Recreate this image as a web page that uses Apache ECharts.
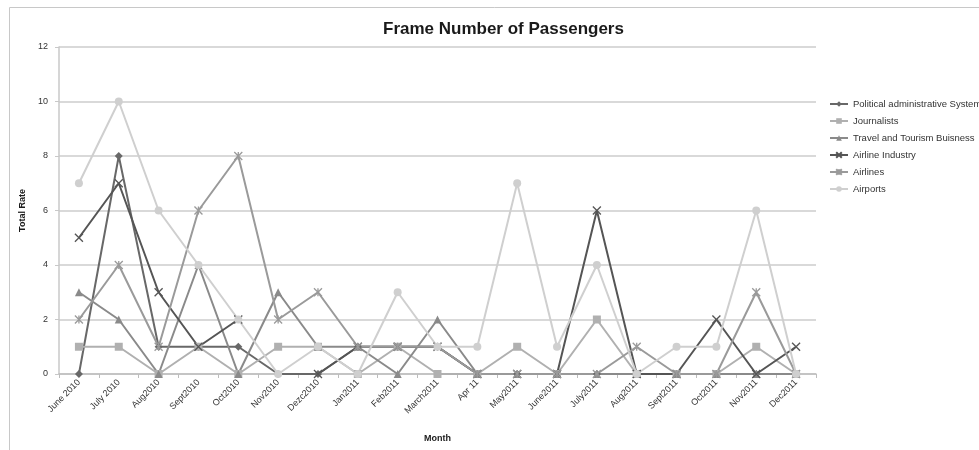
<!DOCTYPE html>
<html>
<head>
<meta charset="utf-8">
<script src="https://cdn.jsdelivr.net/npm/echarts@6/dist/echarts.min.js"></script>
<style>
  html, body { margin: 0; padding: 0; background: #fff; }
  #chart { width: 979px; height: 450px; }
</style>
</head>
<body>
<div id="chart"></div>
<script>
// Month categories along the x axis
const months = ['June 2010', 'July 2010', 'Aug2010', 'Sept2010', 'Oct2010', 'Nov2010', 'Dezc2010',
  'Jan2011', 'Feb2011', 'March2011', 'Apr 11', 'May2011', 'June2011', 'July2011', 'Aug2011',
  'Sept2011', 'Oct2011', 'Nov2011', 'Dec2011'];

// Values per group
const political   = [0, 8, 1, 1, 1, 0, 0, 1, 1, 1, 0, 0, 0, 0, 0, 0, 0, 0, 0];
const journalists = [1, 1, 0, 1, 0, 1, 1, 0, 1, 0, 0, 1, 0, 2, 0, 0, 0, 1, 0];
const travel      = [3, 2, 0, 4, 0, 3, 1, 1, 0, 2, 0, 0, 0, 0, 0, 0, 0, 0, 0];
const airlineInd  = [5, 7, 3, 1, 2, null, 0, 1, 1, 1, 0, 0, 0, 6, 0, 0, 2, 0, 1];
const airlines    = [2, 4, 1, 6, 8, 2, 3, 1, 1, 1, 0, 0, 0, 0, 1, 0, 0, 3, 0];
const airports    = [7, 10, 6, 4, 2, 0, 1, 0, 3, 1, 1, 7, 1, 4, 0, 1, 1, 6, 0];

// Y axis ticks
const yTicks = [0, 2, 4, 6, 8, 10, 12];

const FONT = 'Liberation Sans, Arial, sans-serif';
const X_MARK = 'path://M0,0L10,10M10,0L0,10';
const STAR_MARK = 'path://M0,0L10,10M10,0L0,10M5,0L5,10';

function makeSeries(name, data, color, symbol, size, stroked) {
  return {
    name: name,
    type: 'line',
    data: data,
    symbol: symbol,
    symbolSize: size,
    showAllSymbol: true,
    connectNulls: false,
    lineStyle: { color: color, width: 2 },
    itemStyle: stroked
      ? { color: color, borderColor: color, borderWidth: 1.3 }
      : { color: color, borderWidth: 0 },
    emphasis: { disabled: true },
    animation: false
  };
}

const chart = echarts.init(document.getElementById('chart'), null, { renderer: 'canvas' });

chart.setOption({
  backgroundColor: '#fff',
  animation: false,
  textStyle: { fontFamily: FONT },
  graphic: [{
    type: 'rect',
    shape: { x: 9.5, y: 7.5, width: 1000, height: 500 },
    style: { fill: 'none', stroke: '#c8c8c8', lineWidth: 1 },
    silent: true
  }],
  title: {
    text: 'Frame Number of Passengers',
    left: 378,
    top: 16,
    textStyle: { fontFamily: FONT, fontSize: 17, fontWeight: 'bold', color: '#1a1a1a' }
  },
  legend: {
    orient: 'vertical',
    left: 829,
    top: 99,
    padding: 0,
    itemWidth: 18,
    itemHeight: 7,
    itemGap: 7,
    textStyle: { fontFamily: FONT, fontSize: 9.5, color: '#333' },
    data: ['Political administrative System', 'Journalists', 'Travel and Tourism Buisness',
      'Airline Industry', 'Airlines', 'Airports']
  },
  grid: { left: 59, right: 163, top: 47, bottom: 76, containLabel: false },
  xAxis: {
    type: 'category',
    data: months,
    boundaryGap: true,
    name: 'Month',
    nameLocation: 'middle',
    nameGap: 60,
    nameTextStyle: { fontFamily: FONT, fontSize: 9, fontWeight: 'bold', color: '#1a1a1a' },
    axisLine: { lineStyle: { color: '#bdbdbd', width: 1.5 } },
    axisTick: { show: true, alignWithLabel: false, length: 4, lineStyle: { color: '#bdbdbd' } },
    axisLabel: { rotate: 45, fontSize: 9, color: '#333', margin: 7, interval: 0 },
    splitLine: { show: false }
  },
  yAxis: {
    type: 'value',
    min: yTicks[0],
    max: yTicks[yTicks.length - 1],
    interval: yTicks[1] - yTicks[0],
    name: 'Total Rate',
    nameLocation: 'middle',
    nameGap: 21,
    nameTextStyle: { fontFamily: FONT, fontSize: 9, fontWeight: 'bold', color: '#1a1a1a' },
    axisLine: { show: true, lineStyle: { color: '#c8c8c8', width: 1.5 } },
    axisTick: { show: true, length: 4, lineStyle: { color: '#c8c8c8' } },
    axisLabel: { fontSize: 9, color: '#333', margin: 11 },
    splitLine: { show: true, lineStyle: { color: '#cccccc', width: 1.5 } }
  },
  series: [
    makeSeries('Political administrative System', political, '#686868', 'diamond', 8, false),
    makeSeries('Journalists', journalists, '#b0b0b0', 'rect', 8, false),
    makeSeries('Travel and Tourism Buisness', travel, '#8a8a8a', 'triangle', 8, false),
    makeSeries('Airline Industry', airlineInd, '#555555', X_MARK, 8, true),
    makeSeries('Airlines', airlines, '#9a9a9a', STAR_MARK, 8, true),
    makeSeries('Airports', airports, '#cfcfcf', 'circle', 8, false)
  ]
});
</script>
</body>
</html>
